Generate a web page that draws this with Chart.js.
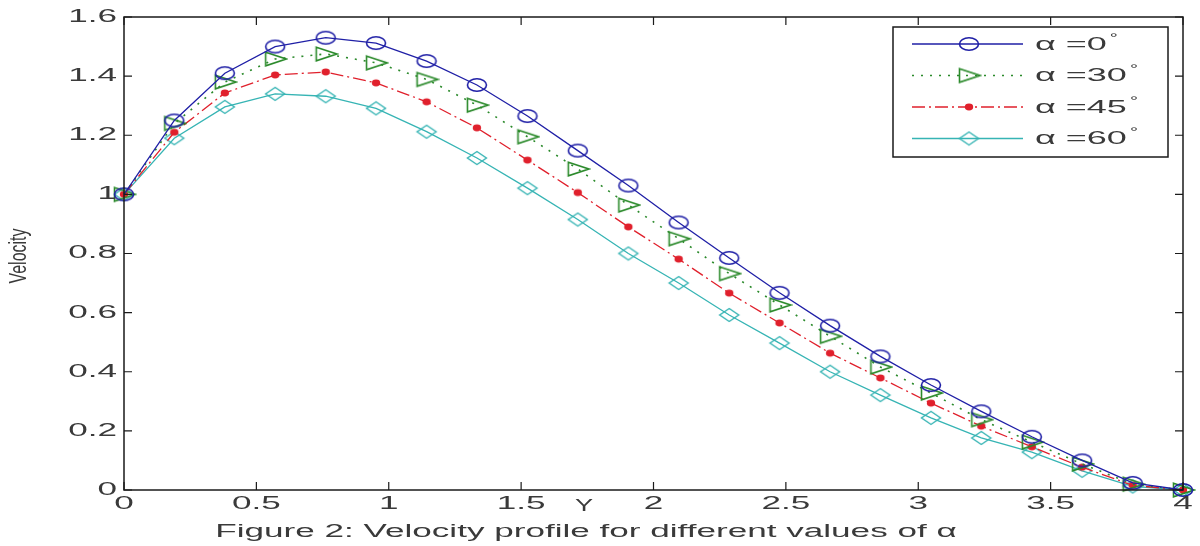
<!DOCTYPE html>
<html lang="en">
<head>
<meta charset="UTF-8" />
<title>Velocity profile</title>
<script src="https://cdn.jsdelivr.net/npm/chart.js"></script>
<style>
  html, body { margin: 0; padding: 0; background: #fff; }
  #wrap { width: 1200px; height: 546px; position: relative; }
</style>
</head>
<body>
<div id="wrap"><canvas id="velocityChart"></canvas></div>
<script>
// sample positions along Y and the velocity for each inclination angle
const yPositions = [0, 0.19, 0.381, 0.571, 0.762, 0.952, 1.143, 1.333, 1.524, 1.714, 1.905,
  2.095, 2.286, 2.476, 2.667, 2.857, 3.048, 3.238, 3.429, 3.619, 3.81, 4];
const velocity0  = [1.0, 1.25, 1.41, 1.50, 1.53, 1.512, 1.451, 1.370, 1.265, 1.148, 1.030,
  0.905, 0.785, 0.667, 0.556, 0.452, 0.355, 0.266, 0.180, 0.100, 0.024, 0];
const velocity30 = [1.0, 1.24, 1.38, 1.458, 1.475, 1.445, 1.389, 1.302, 1.195, 1.086, 0.964,
  0.850, 0.732, 0.626, 0.520, 0.416, 0.328, 0.238, 0.162, 0.088, 0.020, 0];
const velocity45 = [1.0, 1.21, 1.343, 1.404, 1.414, 1.377, 1.313, 1.225, 1.116, 1.006, 0.890,
  0.781, 0.666, 0.565, 0.463, 0.379, 0.294, 0.216, 0.146, 0.077, 0.016, 0];
const velocity60 = [1.0, 1.19, 1.296, 1.34, 1.332, 1.291, 1.212, 1.123, 1.021, 0.915, 0.800,
  0.700, 0.592, 0.497, 0.400, 0.321, 0.244, 0.176, 0.128, 0.065, 0.012, 0];
const angleLabels = ['0', '30', '45', '60'];

const xTickValues = [0, 0.5, 1, 1.5, 2, 2.5, 3, 3.5, 4];
const xTickLabels = ['0', '0.5', '1', '1.5', '2', '2.5', '3', '3.5', '4'];
const yTickValues = [0, 0.2, 0.4, 0.6, 0.8, 1, 1.2, 1.4, 1.6];
const yTickLabels = ['0', '0.2', '0.4', '0.6', '0.8', '1', '1.2', '1.4', '1.6'];

const BLUE = '#1f1fa6';
const GREEN = '#2b8a2b';
const RED = '#e0202c';
const CYAN = '#36b4b4';
const TEXT = '#3a3a3a';
const STRETCH = 1.95;   // the figure's text is drawn wide

function makeMarker(w, h, draw) {
  const c = document.createElement('canvas');
  c.width = w; c.height = h;
  const g = c.getContext('2d');
  draw(g, w / 2, h / 2);
  return c;
}

const circleMarker = makeMarker(24, 16, (g, cx, cy) => {
  g.strokeStyle = BLUE; g.lineWidth = 1.6;
  g.beginPath(); g.ellipse(cx, cy, 9.5, 6.2, 0, 0, Math.PI * 2); g.stroke();
});
const triangleMarker = makeMarker(26, 18, (g, cx, cy) => {
  g.strokeStyle = GREEN; g.lineWidth = 1.6;
  g.beginPath();
  g.moveTo(cx - 9.5, cy - 6.8); g.lineTo(cx + 11, cy); g.lineTo(cx - 9.5, cy + 6.8);
  g.closePath(); g.stroke();
});
const starMarker = makeMarker(12, 10, (g, cx, cy) => {
  g.fillStyle = RED;
  g.beginPath(); g.ellipse(cx, cy, 4.2, 3.4, 0, 0, Math.PI * 2); g.fill();
});
const diamondMarker = makeMarker(24, 16, (g, cx, cy) => {
  g.strokeStyle = CYAN; g.lineWidth = 1.4;
  g.beginPath();
  g.moveTo(cx, cy - 6.5); g.lineTo(cx + 9.5, cy); g.lineTo(cx, cy + 6.5); g.lineTo(cx - 9.5, cy);
  g.closePath(); g.stroke();
});

function series(values) {
  return yPositions.map((x, i) => ({ x: x, y: values[i] }));
}

function wideText(ctx, str, x, y, align, sx) {
  ctx.save();
  ctx.translate(x, y);
  ctx.scale(sx, 1);
  ctx.textAlign = align;
  ctx.fillText(str, 0, 0);
  ctx.restore();
}

// box, inward ticks, labels, caption and legend in the MATLAB figure style
const figureDecor = {
  id: 'figureDecor',
  afterDraw(chart) {
    const ctx = chart.ctx;
    const area = chart.chartArea;
    const xs = chart.scales.x, ys = chart.scales.y;
    ctx.save();

    ctx.strokeStyle = '#1a1a1a';
    ctx.lineWidth = 1.5;
    ctx.strokeRect(area.left, area.top, area.right - area.left, area.bottom - area.top);

    const tick = 8;
    ctx.lineWidth = 1.2;
    ctx.beginPath();
    xTickValues.forEach(v => {
      const px = xs.getPixelForValue(v);
      ctx.moveTo(px, area.bottom); ctx.lineTo(px, area.bottom - tick);
      ctx.moveTo(px, area.top); ctx.lineTo(px, area.top + tick);
    });
    yTickValues.forEach(v => {
      const py = ys.getPixelForValue(v);
      ctx.moveTo(area.left, py); ctx.lineTo(area.left + tick, py);
      ctx.moveTo(area.right, py); ctx.lineTo(area.right - tick, py);
    });
    ctx.stroke();

    ctx.fillStyle = TEXT;
    ctx.font = '18px "Liberation Sans", Arial, sans-serif';
    ctx.textBaseline = 'middle';
    xTickValues.forEach((v, i) => {
      wideText(ctx, xTickLabels[i], xs.getPixelForValue(v), area.bottom + 14, 'center', STRETCH);
    });
    yTickValues.forEach((v, i) => {
      wideText(ctx, yTickLabels[i], area.left - 7, ys.getPixelForValue(v), 'right', STRETCH);
    });

    // axis titles
    ctx.font = '16px "Liberation Sans", Arial, sans-serif';
    wideText(ctx, 'Y', 584, area.bottom + 17, 'center', 1.7);
    ctx.save();
    ctx.translate(19, 256);
    ctx.scale(1.55, 1);
    ctx.rotate(-Math.PI / 2);
    ctx.font = '16px "Liberation Sans", Arial, sans-serif';
    ctx.textAlign = 'center';
    ctx.fillText('Velocity', 0, 0);
    ctx.restore();

    // caption
    ctx.font = '18px "Liberation Sans", Arial, sans-serif';
    ctx.textBaseline = 'alphabetic';
    wideText(ctx, 'Figure 2: Velocity profile for different values of \u03b1', 586, 537, 'center', STRETCH);

    // legend
    const lx0 = area.right - 290, ly0 = area.top + 10;
    const lw = 275, lh = 130;
    ctx.fillStyle = '#fff';
    ctx.fillRect(lx0, ly0, lw, lh);
    ctx.strokeStyle = '#1a1a1a';
    ctx.lineWidth = 1.5;
    ctx.strokeRect(lx0, ly0, lw, lh);
    chart.data.datasets.forEach((ds, i) => {
      const ry = ly0 + 17 + i * 31.5;
      ctx.save();
      ctx.strokeStyle = ds.borderColor;
      ctx.lineWidth = ds.borderWidth;
      ctx.setLineDash(ds.borderDash || []);
      ctx.beginPath();
      ctx.moveTo(lx0 + 19, ry); ctx.lineTo(lx0 + 130, ry);
      ctx.stroke();
      ctx.restore();
      const m = ds.pointStyle;
      ctx.drawImage(m, lx0 + 76 - m.width / 2, ry - m.height / 2);
      ctx.fillStyle = TEXT;
      ctx.font = '18px "Liberation Sans", Arial, sans-serif';
      ctx.textBaseline = 'middle';
      const txt = '\u03b1 =' + angleLabels[i];
      ctx.save();
      ctx.translate(lx0 + 142, ry + 1);
      ctx.scale(2.0, 1);
      ctx.textAlign = 'left';
      ctx.fillText(txt, 0, 0);
      const tw = ctx.measureText(txt).width;
      ctx.font = '10px "Liberation Sans", Arial, sans-serif';
      ctx.fillText('\u00b0', tw + 1.5, -7);
      ctx.restore();
    });

    ctx.restore();
  }
};

const makeDataset = (label, values, color, dash, marker, width) => ({
  label: label,
  data: series(values),
  borderColor: color,
  borderWidth: width,
  borderDash: dash,
  pointStyle: marker,
  pointRadius: 6,
  showLine: true,
  tension: 0,
  fill: false,
  clip: false
});

new Chart(document.getElementById('velocityChart'), {
  type: 'line',
  data: {
    datasets: [
      makeDataset('\u03b1 =0\u00b0', velocity0, BLUE, [], circleMarker, 1.3),
      makeDataset('\u03b1 =30\u00b0', velocity30, GREEN, [2, 7], triangleMarker, 1.6),
      makeDataset('\u03b1 =45\u00b0', velocity45, RED, [13, 4, 2, 4], starMarker, 1.3),
      makeDataset('\u03b1 =60\u00b0', velocity60, CYAN, [], diamondMarker, 1.3)
    ]
  },
  options: {
    responsive: true,
    maintainAspectRatio: false,
    animation: false,
    events: [],
    layout: { padding: { left: 124, right: 17, top: 17, bottom: 56 } },
    plugins: { legend: { display: false }, tooltip: { enabled: false } },
    scales: {
      x: {
        type: 'linear', min: 0, max: 4,
        ticks: { display: false, stepSize: 0.5 },
        grid: { display: false, drawTicks: false },
        border: { display: false }
      },
      y: {
        min: 0, max: 1.6,
        ticks: { display: false, stepSize: 0.2 },
        grid: { display: false, drawTicks: false },
        border: { display: false }
      }
    }
  },
  plugins: [figureDecor]
});
</script>
</body>
</html>
